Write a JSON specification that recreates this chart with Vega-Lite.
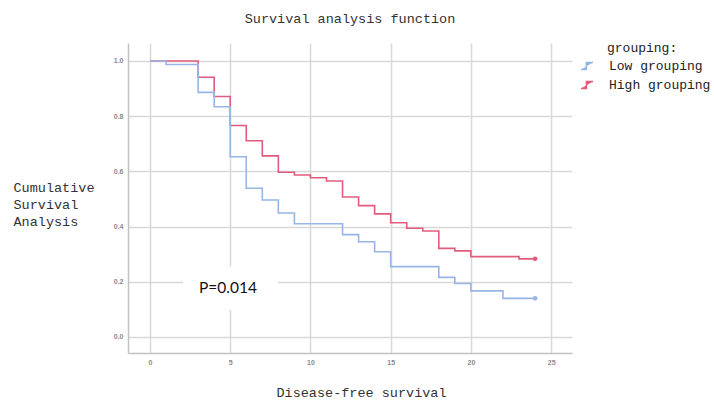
{
  "$schema": "https://vega.github.io/schema/vega-lite/v6.json",
  "width": 444,
  "height": 310,
  "autosize": "none",
  "padding": {"left": 128, "top": 43, "right": 142, "bottom": 47},
  "background": "white",
  "title": {"text": "Survival analysis function", "font": "Liberation Mono", "fontSize": 13.5, "fontWeight": "normal", "color": "#333333", "anchor": "middle", "frame": "group", "offset": 17},
  "config": {"view": {"stroke": null}},
  "datasets": {
    "km": [
      {"group": "High grouping", "t": 0, "s": 1.0},
      {"group": "High grouping", "t": 3, "s": 0.941},
      {"group": "High grouping", "t": 4, "s": 0.871},
      {"group": "High grouping", "t": 5, "s": 0.766},
      {"group": "High grouping", "t": 6, "s": 0.711},
      {"group": "High grouping", "t": 7, "s": 0.656},
      {"group": "High grouping", "t": 8, "s": 0.597},
      {"group": "High grouping", "t": 9, "s": 0.587},
      {"group": "High grouping", "t": 10, "s": 0.577},
      {"group": "High grouping", "t": 11, "s": 0.565},
      {"group": "High grouping", "t": 12, "s": 0.507},
      {"group": "High grouping", "t": 13, "s": 0.476},
      {"group": "High grouping", "t": 14, "s": 0.446},
      {"group": "High grouping", "t": 15, "s": 0.414},
      {"group": "High grouping", "t": 16, "s": 0.394},
      {"group": "High grouping", "t": 17, "s": 0.384},
      {"group": "High grouping", "t": 18, "s": 0.321},
      {"group": "High grouping", "t": 19, "s": 0.312},
      {"group": "High grouping", "t": 20, "s": 0.291},
      {"group": "High grouping", "t": 23, "s": 0.283},
      {"group": "High grouping", "t": 24, "s": 0.283, "censored": true},
      {"group": "Low grouping", "t": 0, "s": 1.0},
      {"group": "Low grouping", "t": 1, "s": 0.987},
      {"group": "Low grouping", "t": 3, "s": 0.886},
      {"group": "Low grouping", "t": 4, "s": 0.834},
      {"group": "Low grouping", "t": 5, "s": 0.653},
      {"group": "Low grouping", "t": 6, "s": 0.539},
      {"group": "Low grouping", "t": 7, "s": 0.496},
      {"group": "Low grouping", "t": 8, "s": 0.449},
      {"group": "Low grouping", "t": 9, "s": 0.41},
      {"group": "Low grouping", "t": 12, "s": 0.371},
      {"group": "Low grouping", "t": 13, "s": 0.345},
      {"group": "Low grouping", "t": 14, "s": 0.309},
      {"group": "Low grouping", "t": 15, "s": 0.255},
      {"group": "Low grouping", "t": 18, "s": 0.216},
      {"group": "Low grouping", "t": 19, "s": 0.194},
      {"group": "Low grouping", "t": 20, "s": 0.167},
      {"group": "Low grouping", "t": 22, "s": 0.14},
      {"group": "Low grouping", "t": 24, "s": 0.14, "censored": true}
    ]
  },
  "encoding": {
    "x": {"type": "quantitative", "scale": {"domain": [-1.37, 26.3], "nice": false, "zero": false},
      "axis": {"values": [0, 5, 10, 15, 20, 25], "grid": true, "gridColor": "#d8d8d8", "gridWidth": 1.5, "domainColor": "#c2c2c2", "domainWidth": 1.5, "ticks": false, "labelFont": "Liberation Sans", "labelFontSize": 7, "labelFontWeight": "bold", "labelColor": "#8a8a8a", "labelPadding": 5,
        "title": "Disease-free survival", "titleFont": "Liberation Mono", "titleFontSize": 13.5, "titleFontWeight": "normal", "titleColor": "#333333", "titleX": 233, "titleY": 39, "titleBaseline": "middle", "titleAnchor": null}},
    "y": {"type": "quantitative", "scale": {"domain": [-0.058, 1.065], "nice": false, "zero": false},
      "axis": {"values": [0, 0.2, 0.4, 0.6, 0.8, 1.0], "format": ".1f", "grid": true, "gridColor": "#d8d8d8", "gridWidth": 1.5, "domainColor": "#c2c2c2", "domainWidth": 1.5, "ticks": false, "labelFont": "Liberation Sans", "labelFontSize": 7, "labelFontWeight": "bold", "labelColor": "#8a8a8a", "labelPadding": 5,
        "title": ["Cumulative", "Survival", "Analysis"], "titleFont": "Liberation Mono", "titleFontSize": 13.5, "titleFontWeight": "normal", "titleColor": "#333333", "titleAngle": 0, "titleAlign": "left", "titleBaseline": "top", "titleX": -115, "titleY": 137, "titleLineHeight": 17}}
  },
  "layer": [
    {
      "data": {"values": [{}]},
      "mark": {"type": "rect", "color": "white"},
      "encoding": {"x": {"datum": 2.06}, "x2": {"datum": 7.97}, "y": {"datum": 0.254}, "y2": {"datum": 0.098}}
    },
    {
      "data": {"values": [{}]},
      "mark": {"type": "text", "text": "P=0.014", "font": "Lato", "fontSize": 15.5, "color": "#111111", "align": "center", "baseline": "middle"},
      "encoding": {"x": {"datum": 4.86}, "y": {"datum": 0.178}}
    },
    {
      "data": {"name": "km"},
      "mark": {"type": "line", "interpolate": "step-after", "strokeWidth": 1.6},
      "encoding": {
        "x": {"field": "t"},
        "y": {"field": "s"},
        "color": {"field": "group", "type": "nominal",
          "scale": {"domain": ["Low grouping", "High grouping"], "range": ["#97b6e6", "#e35b7c"]},
          "legend": {"orient": "none", "legendX": 452, "legendY": -1, "title": "grouping:", "titleFont": "Liberation Mono", "titleFontSize": 13, "titleFontWeight": "normal", "titleColor": "#222222", "titlePadding": 4,
            "labelFont": "Liberation Mono", "labelFontSize": 13, "labelColor": "#222222", "labelOffset": 15,
            "symbolType": "M-1,0.6H-0.1V-0.6H1", "symbolSize": 144, "symbolStrokeWidth": 1.5, "symbolFillColor": "transparent", "rowPadding": 5, "padding": 0,
            "encode": {"title": {"update": {"dx": {"value": 27}}}}}}
      }
    },
    {
      "data": {"name": "km"},
      "transform": [{"filter": "datum.censored === true"}],
      "mark": {"type": "point", "filled": true, "shape": "circle", "size": 22, "opacity": 1},
      "encoding": {
        "x": {"field": "t"},
        "y": {"field": "s"},
        "color": {"field": "group", "type": "nominal", "legend": null}
      }
    }
  ]
}
